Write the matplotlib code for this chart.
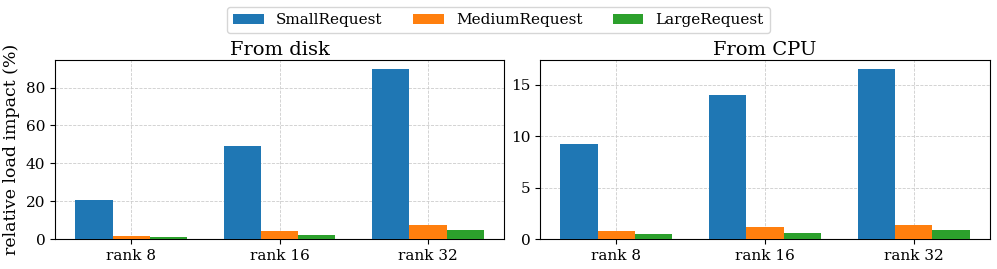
import numpy as np
import matplotlib.pyplot as plt

plt.rcParams['font.family'] = 'DejaVu Serif'

ranks = ['rank 8', 'rank 16', 'rank 32']
series = ['SmallRequest', 'MediumRequest', 'LargeRequest']
colors = ['#1f77b4', '#ff7f0e', '#2ca02c']

disk_small = [20.7, 49.0, 90.0]
disk_medium = [1.8, 4.1, 7.6]
disk_large = [1.0, 2.3, 4.6]

cpu_small = [9.2, 13.95, 16.55]
cpu_medium = [0.8, 1.15, 1.4]
cpu_large = [0.45, 0.62, 0.85]

fig = plt.figure(figsize=(9.97, 2.69), dpi=100)
ax1 = fig.add_axes([0.0552, 0.1115, 0.4504, 0.665])
ax2 = fig.add_axes([0.5416, 0.1115, 0.4514, 0.665])

x = np.arange(len(ranks))
w = 0.25

def draw(ax, vals, title):
    bars = []
    for i, (v, c, name) in enumerate(zip(vals, colors, series)):
        b = ax.bar(x + (i - 1) * w, v, w, color=c, label=name, zorder=3)
        bars.append(b)
    ax.set_xticks(x)
    ax.set_xticklabels(ranks, fontsize=11)
    ax.tick_params(axis='y', labelsize=11)
    ax.grid(True, linestyle='--', linewidth=0.6, color='#cccccc', zorder=0)
    ax.set_title(title, fontsize=14, pad=4)
    return bars

h = draw(ax1, [disk_small, disk_medium, disk_large], 'From disk')
draw(ax2, [cpu_small, cpu_medium, cpu_large], 'From CPU')
ax1.set_ylabel('relative load impact (%)', fontsize=12.5)
ax1.set_yticks([0, 20, 40, 60, 80])
ax2.set_yticks([0, 5, 10, 15])

fig.legend(h, series, loc='center', bbox_to_anchor=(0.5, 0.9245), ncol=3,
           fontsize=11, frameon=True)

fig.savefig('out.png', dpi=100)
